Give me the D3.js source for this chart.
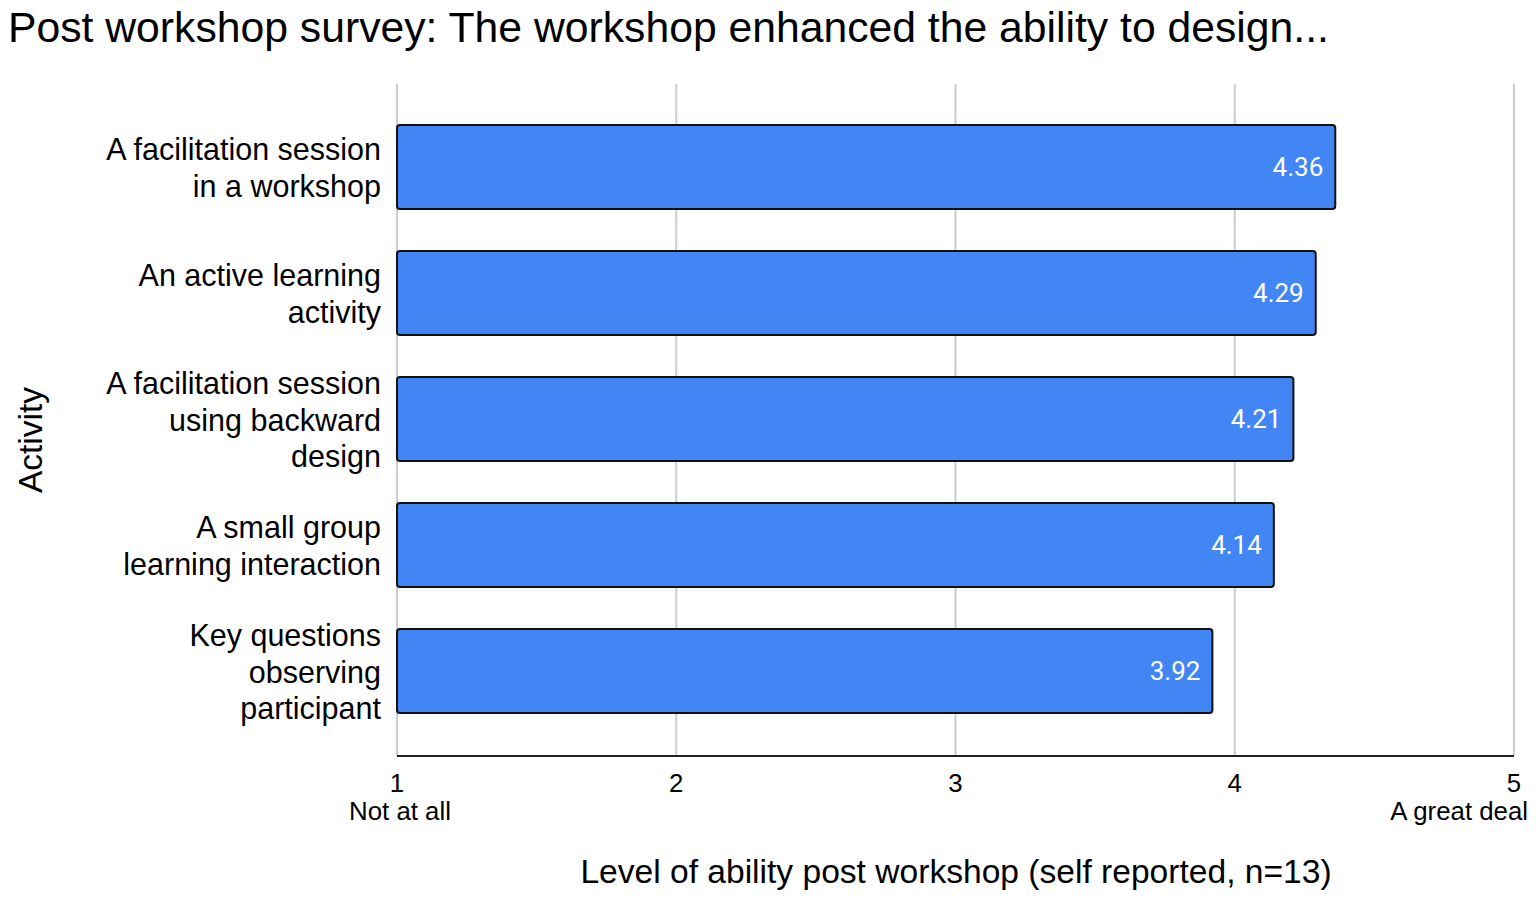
<!DOCTYPE html>
<html>
<head>
<meta charset="utf-8">
<script src="https://cdn.jsdelivr.net/npm/d3@7"></script>
<style>
  body { margin: 0; background: #fff; }
  svg { display: block; font-family: "Liberation Sans", Arial, sans-serif; }
</style>
</head>
<body>
<div id="chart"></div>
<script>
// data
let activities = [
    ["A facilitation session", "in a workshop"],
    ["An active learning", "activity"],
    ["A facilitation session", "using backward", "design"],
    ["A small group", "learning interaction"],
    ["Key questions", "observing", "participant"]
]
let scores = [4.36, 4.29, 4.21, 4.14, 3.92]
let tickValues = [1, 2, 3, 4, 5]
let tickNotes = {1: "Not at all", 5: "A great deal"}

let titleText = "Post workshop survey: The workshop enhanced the ability to design..."
let xTitle = "Level of ability post workshop (self reported, n=13)"
let yTitle = "Activity"

let width = 1536, height = 901
let plot = {left: 397, right: 1514, top: 84, bottom: 756}

let svg = d3.select("#chart").append("svg")
    .attr("width", width)
    .attr("height", height)

// scales
let x = d3.scaleLinear().domain([1, 5]).range([plot.left, plot.right])
let y = d3.scaleBand()
    .domain(d3.range(activities.length))
    .range([104, 734])
    .paddingInner(0.333)
    .paddingOuter(0.1665)

// title
svg.append("text")
    .attr("x", 8)
    .attr("y", 42)
    .attr("font-size", 42.7)
    .attr("fill", "#000")
    .text(titleText)

// gridlines
svg.append("g")
    .selectAll("line")
    .data(tickValues)
    .enter()
    .append("line")
    .attr("x1", d => x(d))
    .attr("x2", d => x(d))
    .attr("y1", plot.top)
    .attr("y2", plot.bottom)
    .attr("stroke", "#cccccc")
    .attr("stroke-width", 2)

// bars
svg.append("g")
    .selectAll("rect")
    .data(scores)
    .enter()
    .append("rect")
    .attr("x", x(1))
    .attr("y", (d, i) => y(i))
    .attr("width", d => x(d) - x(1))
    .attr("height", y.bandwidth())
    .attr("rx", 3)
    .attr("fill", "#4285f4")
    .attr("stroke", "#111")
    .attr("stroke-width", 2)

// value labels
svg.append("g")
    .selectAll("text")
    .data(scores)
    .enter()
    .append("text")
    .attr("x", d => x(d) - 12)
    .attr("y", (d, i) => y(i) + y.bandwidth() / 2)
    .attr("dy", "0.35em")
    .attr("text-anchor", "end")
    .attr("font-family", "Roboto, sans-serif")
    .attr("font-size", 26)
    .attr("fill", "#fff")
    .text(d => d.toFixed(2))

// baseline
svg.append("line")
    .attr("x1", plot.left)
    .attr("x2", plot.right)
    .attr("y1", plot.bottom)
    .attr("y2", plot.bottom)
    .attr("stroke", "#222")
    .attr("stroke-width", 2)

// category labels
let lineH = 36.5
let cats = svg.append("g")
    .selectAll("text")
    .data(activities)
    .enter()
    .append("text")
    .attr("text-anchor", "end")
    .attr("font-size", 30.5)
    .attr("fill", "#000")
    .attr("transform", (d, i) => `translate(381, ${y(i) + y.bandwidth() / 2 - (d.length - 1) * lineH / 2 + 1})`)

cats.selectAll("tspan")
    .data(d => d)
    .enter()
    .append("tspan")
    .attr("x", 0)
    .attr("y", (d, i) => i * lineH)
    .attr("dy", "0.35em")
    .text(d => d)

// x tick labels
let ticks = svg.append("g")
    .selectAll("g")
    .data(tickValues)
    .enter()
    .append("g")
    .attr("transform", d => `translate(${x(d)}, 0)`)

ticks.append("text")
    .attr("y", 792)
    .attr("text-anchor", "middle")
    .attr("font-size", 25.8)
    .text(d => d)

ticks.filter(d => tickNotes[d])
    .append("text")
    .attr("x", d => d === 5 ? 14 : 3)
    .attr("y", 820)
    .attr("text-anchor", d => d === 5 ? "end" : "middle")
    .attr("font-size", 25.8)
    .text(d => tickNotes[d])

// axis titles
svg.append("text")
    .attr("x", 956)
    .attr("y", 883)
    .attr("text-anchor", "middle")
    .attr("font-size", 33.6)
    .text(xTitle)

svg.append("text")
    .attr("transform", "translate(42, 440) rotate(-90)")
    .attr("text-anchor", "middle")
    .attr("font-size", 33.5)
    .text(yTitle)
</script>
</body>
</html>
